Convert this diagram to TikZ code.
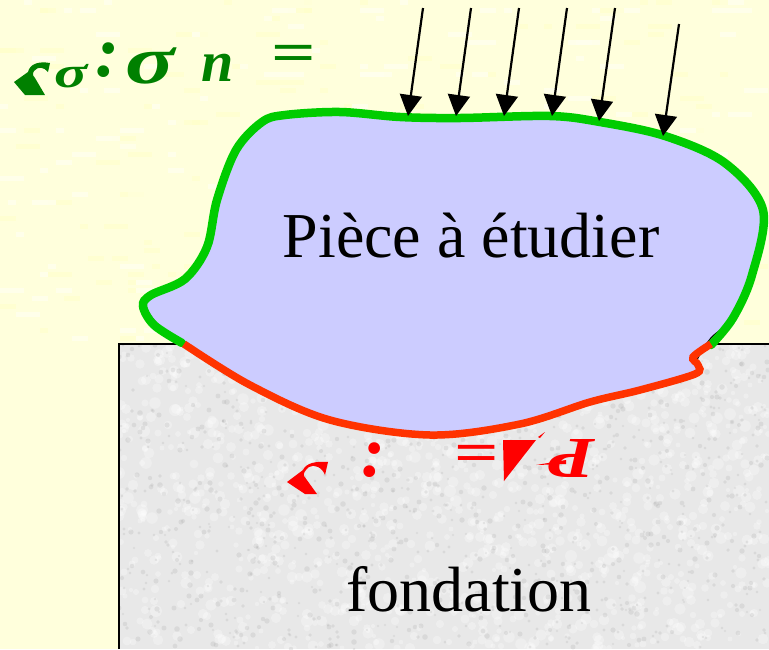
\documentclass[tikz,border=0pt]{standalone}
\usepackage{fontspec}
\setmainfont{Liberation Serif}
\usetikzlibrary{arrows.meta}
\definecolor{bgyellow}{HTML}{FFFFDC}
\definecolor{bgpatch}{HTML}{FFFFC8}
\definecolor{bgpatchb}{HTML}{FFFFEE}
\definecolor{stone}{HTML}{E8E8E8}
\definecolor{bodyblue}{HTML}{CCCCFF}
\definecolor{edgegreen}{HTML}{00CC00}
\definecolor{edgered}{HTML}{FF3300}
\definecolor{textgreen}{HTML}{008000}
\definecolor{textred}{HTML}{FF0000}
\tikzset{
  loadarrow/.style={line width=2.2pt,-{Triangle[length=21pt,width=22pt]},shorten >=0pt},
  bigtext/.style={font=\fontsize{64}{64}\selectfont,inner sep=0pt},
  greentext/.style={text=textgreen,font=\fontsize{58}{58}\selectfont\bfseries\itshape,inner sep=0pt},
  redtext/.style={text=textred,font=\fontsize{58}{58}\selectfont\bfseries\itshape,inner sep=0pt},
}
\begin{document}
\begin{tikzpicture}[x=1pt,y=-1pt]
\useasboundingbox (0,0) rectangle (769,649);
\fill[bgyellow] (0,0) rectangle (769,649);
% mottled background
\pgfmathsetseed{7}
\begin{scope}
\clip (0,0) rectangle (769,649);
\foreach \i in {1,...,170}{
  \pgfmathsetmacro{\px}{int(random(0,95))*8}
  \pgfmathsetmacro{\py}{int(random(0,42))*8}
  \pgfmathsetmacro{\pw}{int(random(1,3))*8}
  \fill[bgpatch,opacity=.5] (\px,\py) rectangle ++(\pw,5);
  \pgfmathsetmacro{\qx}{int(random(0,95))*8}
  \pgfmathsetmacro{\qy}{int(random(0,42))*8}
  \fill[bgpatchb,opacity=.8] (\qx,\qy) rectangle ++(\pw,5);
}
\end{scope}
% foundation
\fill[stone] (119,344) rectangle (769,649);
\begin{scope}
\clip (119,344) rectangle (769,649);
\foreach \i in {1,...,1300}{
  \pgfmathsetmacro{\px}{random(119,769)}
  \pgfmathsetmacro{\py}{random(344,649)}
  \pgfmathsetmacro{\pr}{2+4*rnd}
  \fill[white,opacity=.3] (\px,\py) circle[radius=\pr];
}
\foreach \i in {1,...,1100}{
  \pgfmathsetmacro{\px}{random(119,769)}
  \pgfmathsetmacro{\py}{random(344,649)}
  \pgfmathsetmacro{\pr}{1+1.8*rnd}
  \fill[black!35,opacity=.22] (\px,\py) circle[radius=\pr];
}
\end{scope}
\draw[black,line width=2pt] (119,649) -- (119,344) -- (769,344);
% body
\fill[bodyblue,draw=black,line width=1.2pt]
  plot[smooth,tension=.55] coordinates {(183,343) (160,327) (146,305) (160,290) (193,272) (210,240) (218,200) (237,150) (262,122) (285,114) (340,112) (400,117) (460,118) (550,116) (600,122) (665,136) (725,163) (762,210) (752,275) (733,318) (711,338) (696,362) (698,372) (640,390) (590,402) (520,424) (430,436) (350,424) (270,394) (183,343)};
% coloured edges
\draw[edgegreen,line width=8.5pt,line cap=round]
  plot[smooth,tension=.55] coordinates {(182,343) (154,325) (143,306) (151,295) (185,279) (207,247) (217,200) (236,150) (262,122) (285,115) (340,112) (400,117) (460,118) (550,116) (600,122) (665,136) (725,163) (763,210) (752,275) (733,318) (711,345)};
\draw[edgered,line width=7.5pt,line cap=butt]
  plot[smooth,tension=.55] coordinates {(184,344) (250,385) (330,420) (430,435) (520,424) (590,402) (640,390) (695,374) (698,365) (693,357) (711,344)};
% load arrows
\coordinate (a1s) at (423,8);   \coordinate (a1e) at (408,116);
\coordinate (a2s) at (471,8);   \coordinate (a2e) at (456,116);
\coordinate (a3s) at (519,8);   \coordinate (a3e) at (504,116);
\coordinate (a4s) at (567,8);   \coordinate (a4e) at (552,116);
\coordinate (a5s) at (615,8);   \coordinate (a5e) at (599,121);
\coordinate (a6s) at (679,24);  \coordinate (a6e) at (663,136);
\foreach \k in {1,...,6}{\draw[loadarrow] (a\k s) -- (a\k e);}
% labels
\node[bigtext] (piece) at (471,236) {Pièce à étudier};
\node[bigtext] (fond) at (469,589) {fondation};
% green formula
\node[greentext,font=\fontsize{44}{44}\selectfont\bfseries\itshape,xscale=1.4] (gs) at (71,76) {σ};
\node[greentext,font=\fontsize{72}{72}\selectfont\bfseries\itshape] (gcolon) at (107,60) {:};
\node[greentext,font=\fontsize{68}{68}\selectfont\bfseries\itshape,xscale=1.35] (gsigma) at (150,66) {σ};
\node[greentext] (gn) at (218,68) {n};
\node[greentext,font=\fontsize{56}{56}\selectfont\bfseries,xscale=1.4] (geq) at (294,58) {=};
\fill[textgreen] (14,82) -- (28,72) .. controls (30,64) and (38,61) .. (50,63) -- (48,72) .. controls (44,67) and (38,66) .. (34,71) .. controls (32,74) and (33,77) .. (35,78) -- (45,95) -- (25,95) -- cycle;
% red formula
\fill[textred] (287,482) -- (303,470) .. controls (306,463) and (316,461) .. (328,462) -- (325,475) .. controls (322,467) and (314,464) .. (309,467) .. controls (305,470) and (303,474) .. (304,476) -- (317,494) -- (305,494) -- cycle;
\node[redtext,font=\fontsize{72}{72}\selectfont\bfseries\itshape] (rcolon) at (373,460) {:};
\node[redtext,font=\fontsize{56}{56}\selectfont\bfseries,xscale=1.4] (req) at (477,458) {=};
\fill[textred] (503,440) -- (536,440) -- (504,481) -- cycle;
\fill[textred] (538,437) -- (545,432) -- (540,438) -- cycle;
\node[redtext,rotate=180,xscale=1.3] (rf) at (572,458) {P};
\fill[textred] (536,465) -- (566,460) -- (566,464) -- cycle;
\end{tikzpicture}
\end{document}
